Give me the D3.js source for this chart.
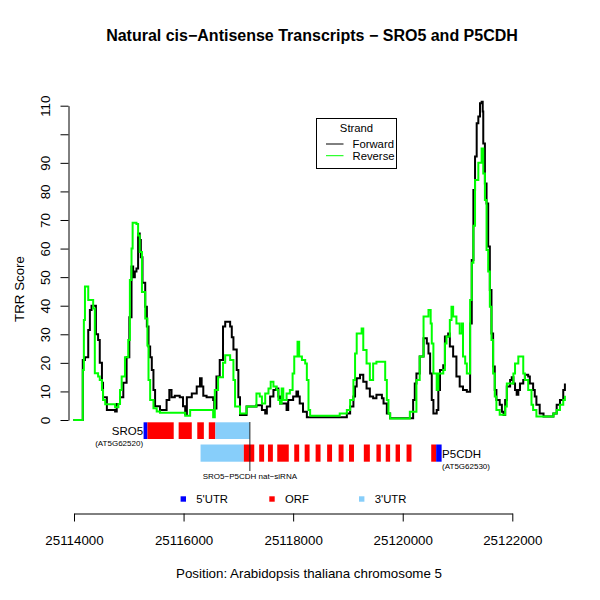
<!DOCTYPE html>
<html><head><meta charset="utf-8">
<script src="https://cdn.jsdelivr.net/npm/d3@7"></script>
<style>
body{margin:0;background:#fff}
svg{display:block}
text{font-family:"Liberation Sans",Arial,Helvetica,sans-serif;fill:#000}
</style>
</head><body>
<svg id="chart" width="600" height="600"></svg>
<script>
// ---------- data ----------
const titleText = "Natural cis\u2212Antisense Transcripts \u2212 SRO5 and P5CDH";
const xLabel = "Position: Arabidopsis thaliana chromosome 5";
const yLabel = "TRR Score";
const xTicks = [25114000, 25116000, 25118000, 25120000, 25122000];
const yTicks = [0, 10, 20, 30, 40, 50, 60, 70, 80, 90, 100, 110];
const yTickLabels = ["0","10","20","30","40","50","60","70","80","90","","110"];

const fwdPos = [25113990,25114160,25114200,25114260,25114290,25114320,25114400,25114440,25114470,25114510,
25114530,25114600,25114750,25114780,25114840,25114900,25114960,25115010,25115050,25115080,
25115110,25115140,25115170,25115200,25115220,25115250,25115300,25115330,25115360,25115390,
25115420,25115450,25115480,25115570,25115690,25115740,25115780,25115840,25115930,25115990,
25116030,25116060,25116150,25116240,25116300,25116330,25116360,25116420,25116540,25116560,
25116600,25116660,25116720,25116760,25116850,25116880,25116910,25116970,25117000,25117030,
25117150,25117330,25117430,25117490,25117520,25117580,25117640,25117690,25117730,25117760,
25117880,25117910,25118000,25118060,25118090,25118120,25118180,25118250,25118980,25119040,
25119100,25119130,25119160,25119220,25119280,25119340,25119400,25119460,25119520,25119620,
25119650,25119710,25119770,25120190,25120220,25120250,25120310,25120380,25120440,25120470,
25120500,25120530,25120560,25120620,25120650,25120680,25120740,25120770,25120830,25120860,
25120920,25120980,25121040,25121100,25121170,25121230,25121260,25121290,25121320,25121350,
25121380,25121410,25121440,25121460,25121470,25121500,25121530,25121560,25121590,25121620,
25121650,25121680,25121710,25121770,25121810,25121840,25121870,25121900,25121960,25121990,
25122020,25122050,25122080,25122110,25122140,25122200,25122230,25122290,25122320,25122380,
25122410,25122440,25122500,25122570,25122750,25122810,25122870,25122930,25122960];
const fwdVal = [0,21,22,31.5,38.5,40,30,28,20,13,
8,3.5,3,5.6,8,13,22,36,53.7,50,
52,53,65.3,63,57,48,39.6,32.7,25.7,22,
17.5,10.5,4.8,3.5,7,10.5,8,8.5,8,4.8,
2,8,9.3,11.7,14.6,11.7,8.5,8,7,4,
15.2,21,32.7,34.4,32.7,29,24.7,17.5,8,1.75,
4.7,5.2,3.5,2.3,4.7,8.2,10.5,11,8.2,5.8,
3.5,7,8.2,10,8.2,5.8,2.9,1,2.3,4.7,
8.2,11.7,14.6,15.8,13.4,11,8.2,7.6,8.8,7.6,
5.8,2.3,0.6,7,12.8,16.3,22.2,28.6,26.8,23.3,
16.3,7,2.3,3.5,10.5,17.5,19.2,29.2,30.3,25.7,
22.2,15.2,11.7,10.5,9.9,33.8,56,80.5,92.2,103.9,
106.2,110.9,111.4,108,96.8,82.8,75.8,60.7,45.5,30.3,
18.7,10.5,7,5.3,2.9,1.75,7,11.7,14,15,
12.8,10.5,8.8,10.5,12.8,14,15.8,15.2,12.8,10.5,
8.2,5.3,2.3,1.2,2.3,5.3,7,10.5,12.8];

const revPos = [25113990,25114160,25114180,25114200,25114260,25114350,25114380,25114440,25114470,25114510,
25114530,25114570,25114750,25114810,25114840,25114870,25114930,25114990,25115020,25115050,
25115070,25115140,25115170,25115200,25115240,25115300,25115340,25115360,25115390,25115450,
25115510,25115570,25116030,25116120,25116540,25116570,25116630,25116720,25116760,25116850,
25116910,25116940,25117030,25117150,25117330,25117390,25117430,25117490,25117550,25117590,
25117640,25117700,25117730,25117760,25117790,25117820,25117880,25117940,25117990,25118020,
25118080,25118110,25118160,25118220,25118250,25118280,25118310,25118850,25118980,25119040,
25119100,25119130,25119160,25119250,25119280,25119340,25119400,25119460,25119520,25119680,
25119710,25119740,25119770,25120130,25120250,25120310,25120380,25120470,25120510,25120530,
25120560,25120620,25120650,25120740,25120770,25120800,25120860,25120890,25120920,25120980,
25121040,25121080,25121100,25121140,25121170,25121230,25121260,25121290,25121320,25121380,
25121440,25121470,25121500,25121530,25121560,25121590,25121620,25121650,25121680,25121710,
25121770,25121870,25121900,25122020,25122050,25122110,25122200,25122230,25122290,25122350,
25122380,25122440,25122750,25122810,25122870,25122930,25122960];
const revVal = [0,17.5,35,46.7,42,39,16.4,15.2,14,10.5,
7,5.5,4.5,5.6,10.5,15.2,22,28,49,60,
69,68.6,64.6,58.8,44.8,35.5,26.1,14,7,4.1,
3,2.5,1.5,3.5,1,10.5,15,20,22.7,21,
14,4.7,2.3,4.7,9.3,8.2,5.8,9.3,11,13.4,
11.7,10.5,7,5.8,11,7,9.3,10.5,16.3,22.2,
27.4,22.2,21,19.8,14,3.5,1.5,2.3,3.5,7,
14,23.3,30.3,32,24.5,19.8,14,19.8,20.4,14,
7,2.3,0.5,2.9,14,22.2,36.2,38.5,33.8,26.8,
16.3,10.5,16.3,17.5,26.8,29.2,35,39.6,36.2,33.8,
30.3,33.8,22.2,19.8,16.3,42,55,68,84,90,
95,86.3,77,59.5,52,39.6,28,16.3,8.2,3.5,
1.8,4.7,12.8,16.3,19.8,22.2,16.3,14,10.5,5.3,
3.5,1.2,2.3,3.5,5.3,7,8.5];

// gene structures: [start, end, part]
const sro5Parts = [
  [25115270,25115340,"5'UTR"],[25115340,25115820,"ORF"],[25115910,25116150,"ORF"],
  [25116250,25116370,"ORF"],[25116460,25116580,"ORF"],[25116580,25117210,"3'UTR"]];
const p5cdhParts = [
  [25116310,25117100,"3'UTR"],[25117100,25117290,"ORF"],[25117380,25117470,"ORF"],
  [25117540,25117630,"ORF"],[25117710,25117920,"ORF"],[25118020,25118110,"ORF"],
  [25118210,25118300,"ORF"],[25118410,25118500,"ORF"],[25118620,25118710,"ORF"],
  [25118830,25118920,"ORF"],[25119020,25119110,"ORF"],[25119290,25119400,"ORF"],
  [25119520,25119600,"ORF"],[25119690,25119770,"ORF"],[25119870,25119950,"ORF"],
  [25120070,25120160,"ORF"],[25120520,25120610,"ORF"],[25120610,25120710,"5'UTR"]];
const sirnaPos = 25117210;
const sirnaLabel = "SRO5\u2212P5CDH nat\u2212siRNA";
const geneNames = ["SRO5", "P5CDH"];
const geneIds = ["(AT5G62520)", "(AT5G62530)"];
const partNames = ["5'UTR", "ORF", "3'UTR"];
const partColors = ["#0000ff", "#ff0000", "#87cefa"];
const strandNames = ["Forward", "Reverse"];
const strandColors = ["#000000", "#00ff00"];

// ---------- drawing ----------
const svg = d3.select("#chart");
const FS = 13.33;
const x = d3.scaleLinear().domain([25114000, 25122000]).range([74, 512.3]);
const y = d3.scaleLinear().domain([0, 110]).range([420, 105.7]);
const partColor = d3.scaleOrdinal().domain(partNames).range(partColors);

svg.append("text").attr("x", 312).attr("y", 35)
  .attr("text-anchor", "middle").attr("dominant-baseline", "central")
  .attr("font-weight", "bold").attr("font-size", 16).text(titleText);

// y axis
const gy = svg.append("g").attr("transform", "translate(68.5,0)")
  .call(d3.axisLeft(y).tickValues(yTicks).tickSize(8).tickSizeOuter(0)
    .tickFormat((d, i) => yTickLabels[i]));
gy.attr("font-size", null).attr("font-family", null);
gy.selectAll("path,line").attr("stroke", "#000");
gy.selectAll(".tick text")
  .attr("x", 0).attr("dy", null)
  .attr("transform", "translate(-23.5,0) rotate(-90)")
  .attr("text-anchor", "middle").attr("dominant-baseline", "central")
  .attr("font-size", FS);

// x axis
const gx = svg.append("g").attr("transform", "translate(0,513.5)")
  .call(d3.axisBottom(x).tickValues(xTicks).tickSize(8).tickSizeOuter(0)
    .tickFormat(d3.format("d")));
gx.attr("font-size", null).attr("font-family", null);
gx.selectAll("path,line").attr("stroke", "#000");
gx.selectAll(".tick text").attr("y", 27).attr("dy", null)
  .attr("dominant-baseline", "central").attr("font-size", FS);

svg.append("text").attr("x", 309).attr("y", 573)
  .attr("text-anchor", "middle").attr("dominant-baseline", "central")
  .attr("font-size", FS).text(xLabel);
svg.append("text").attr("transform", "translate(19,289) rotate(-90)")
  .attr("text-anchor", "middle").attr("dominant-baseline", "central")
  .attr("font-size", FS).text(yLabel);

// lines
const line = d3.line().x(d => x(d[0])).y(d => y(d[1])).curve(d3.curveStepAfter);
[[fwdPos, fwdVal], [revPos, revVal]].forEach((s, i) => {
  svg.append("path").datum(d3.zip(s[0], s[1]))
    .attr("d", line).attr("fill", "none")
    .attr("stroke", strandColors[i]).attr("stroke-width", 2);
});

// strand legend
const lg = svg.append("g");
lg.append("rect").attr("x", 316.5).attr("y", 118.5).attr("width", 80).attr("height", 50)
  .attr("fill", "none").attr("stroke", "#000");
lg.append("text").attr("x", 356.5).attr("y", 127.5).attr("text-anchor", "middle")
  .attr("dominant-baseline", "central").attr("font-size", 11.3).text("Strand");
strandNames.forEach((n, i) => {
  const yy = 144 + i * 11.7;
  lg.append("line").attr("x1", 326).attr("x2", 343.5).attr("y1", yy).attr("y2", yy)
    .attr("stroke", strandColors[i]).attr("stroke-width", 1);
  lg.append("text").attr("x", 352.5).attr("y", yy).attr("dominant-baseline", "central")
    .attr("font-size", 11.3).text(n);
});

// gene structures
const rows = [[sro5Parts, 422.3, 16.7], [p5cdhParts, 444.5, 17.2]];
rows.forEach(r => {
  svg.append("g").selectAll("rect").data(r[0]).join("rect")
    .attr("x", d => x(d[0])).attr("width", d => x(d[1]) - x(d[0]))
    .attr("y", r[1]).attr("height", r[2])
    .attr("fill", d => partColor(d[2]));
});
svg.append("line").attr("x1", x(sirnaPos)).attr("x2", x(sirnaPos))
  .attr("y1", 422).attr("y2", 471).attr("stroke", "#222").attr("stroke-width", 1);
svg.append("text").attr("x", x(sirnaPos)).attr("y", 476).attr("text-anchor", "middle")
  .attr("dominant-baseline", "central").attr("font-size", 8).text(sirnaLabel);

svg.append("text").attr("x", x(sro5Parts[0][0]) - 0.5).attr("y", 431)
  .attr("text-anchor", "end").attr("dominant-baseline", "central")
  .attr("font-size", 11.5).text(geneNames[0]);
svg.append("text").attr("x", x(sro5Parts[0][0]) - 0.5).attr("y", 443.5)
  .attr("text-anchor", "end").attr("dominant-baseline", "central")
  .attr("font-size", 8).text(geneIds[0]);
const p5end = x(p5cdhParts[p5cdhParts.length - 1][1]);
svg.append("text").attr("x", p5end + 0.5).attr("y", 453.5)
  .attr("dominant-baseline", "central").attr("font-size", 11.5).text(geneNames[1]);
svg.append("text").attr("x", p5end + 0.5).attr("y", 466)
  .attr("dominant-baseline", "central").attr("font-size", 8).text(geneIds[1]);

// part legend
const legX = [183.3, 272, 361.7];
partNames.forEach((n, i) => {
  svg.append("rect").attr("x", legX[i] - 2.7).attr("y", 499 - 2.7)
    .attr("width", 5.4).attr("height", 5.4).attr("fill", partColors[i]);
  svg.append("text").attr("x", legX[i] + 13).attr("y", 499)
    .attr("dominant-baseline", "central").attr("font-size", 11.3).text(n);
});
</script>
</body></html>
